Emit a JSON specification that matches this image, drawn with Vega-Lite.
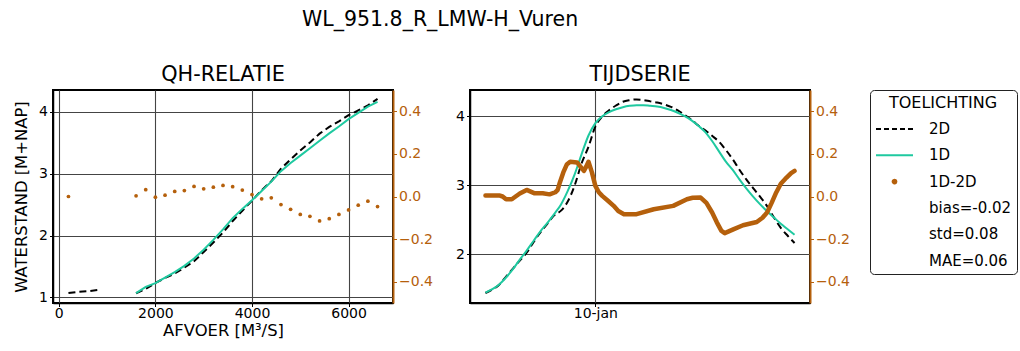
{
  "$schema": "https://vega.github.io/schema/vega-lite/v6.json",
  "padding": {"left": 12, "top": 9, "right": 3, "bottom": 0},
  "background": "white",
  "config": {
    "font": "DejaVu Sans",
    "view": {"stroke": "black", "strokeWidth": 2},
    "axis": {"labelFontSize": 14, "titleFontSize": 16.4, "labelColor": "black", "titleColor": "black", "titleFontWeight": "normal", "tickColor": "black", "domainColor": "black", "domainWidth": 1.5, "gridColor": "#444", "gridWidth": 1.1, "gridOpacity": 1, "tickSize": 3.5, "labelPadding": 2},
    "axisX": {"labelPadding": 0, "titlePadding": 2},
    "title": {"fontSize": 20.8, "fontWeight": "normal", "color": "black"}
  },
  "datasets": {
    "qh": [
      {"Q": 200, "H2D": 1.07, "diff": 0.0, "seg": "a"},
      {"Q": 400, "H2D": 1.09, "seg": "a"},
      {"Q": 600, "H2D": 1.10, "seg": "a"},
      {"Q": 800, "H2D": 1.12, "seg": "a"},
      {"Q": 1600, "H1D": 1.07, "H2D": 1.067, "diff": 0.003, "seg": "b"},
      {"Q": 1800, "H1D": 1.17, "H2D": 1.138, "diff": 0.032, "seg": "b"},
      {"Q": 2000, "H1D": 1.23, "H2D": 1.233, "diff": -0.003, "seg": "b"},
      {"Q": 2200, "H1D": 1.32, "H2D": 1.314, "diff": 0.006, "seg": "b"},
      {"Q": 2400, "H1D": 1.41, "H2D": 1.386, "diff": 0.024, "seg": "b"},
      {"Q": 2600, "H1D": 1.51, "H2D": 1.482, "diff": 0.028, "seg": "b"},
      {"Q": 2800, "H1D": 1.63, "H2D": 1.583, "diff": 0.047, "seg": "b"},
      {"Q": 3000, "H1D": 1.77, "H2D": 1.734, "diff": 0.036, "seg": "b"},
      {"Q": 3200, "H1D": 1.93, "H2D": 1.886, "diff": 0.044, "seg": "b"},
      {"Q": 3400, "H1D": 2.10, "H2D": 2.048, "diff": 0.052, "seg": "b"},
      {"Q": 3600, "H1D": 2.28, "H2D": 2.234, "diff": 0.046, "seg": "b"},
      {"Q": 3800, "H1D": 2.43, "H2D": 2.40, "diff": 0.030, "seg": "b"},
      {"Q": 4000, "H1D": 2.57, "H2D": 2.561, "diff": 0.009, "seg": "b"},
      {"Q": 4200, "H1D": 2.72, "H2D": 2.731, "diff": -0.011, "seg": "b"},
      {"Q": 4400, "H1D": 2.87, "H2D": 2.876, "diff": -0.006, "seg": "b"},
      {"Q": 4600, "H1D": 3.04, "H2D": 3.078, "diff": -0.038, "seg": "b"},
      {"Q": 4800, "H1D": 3.17, "H2D": 3.23, "diff": -0.060, "seg": "b"},
      {"Q": 5000, "H1D": 3.29, "H2D": 3.374, "diff": -0.084, "seg": "b"},
      {"Q": 5200, "H1D": 3.41, "H2D": 3.503, "diff": -0.093, "seg": "b"},
      {"Q": 5400, "H1D": 3.53, "H2D": 3.645, "diff": -0.115, "seg": "b"},
      {"Q": 5600, "H1D": 3.65, "H2D": 3.754, "diff": -0.104, "seg": "b"},
      {"Q": 5800, "H1D": 3.76, "H2D": 3.844, "diff": -0.084, "seg": "b"},
      {"Q": 6000, "H1D": 3.88, "H2D": 3.943, "diff": -0.063, "seg": "b"},
      {"Q": 6200, "H1D": 3.98, "H2D": 4.021, "diff": -0.041, "seg": "b"},
      {"Q": 6400, "H1D": 4.08, "H2D": 4.102, "diff": -0.022, "seg": "b"},
      {"Q": 6600, "H1D": 4.16, "H2D": 4.207, "diff": -0.047, "seg": "b"}
    ],
    "ts": [
      {"t": "2024-01-06 00:00", "H1D": 1.44, "H2D": 1.435},
      {"t": "2024-01-06 06:00", "H1D": 1.49, "H2D": 1.485},
      {"t": "2024-01-06 12:00", "H1D": 1.56, "H2D": 1.555},
      {"t": "2024-01-06 18:00", "H1D": 1.66, "H2D": 1.673},
      {"t": "2024-01-07 00:00", "H1D": 1.78, "H2D": 1.79},
      {"t": "2024-01-07 06:00", "H1D": 1.92, "H2D": 1.906},
      {"t": "2024-01-07 12:00", "H1D": 2.05, "H2D": 2.019},
      {"t": "2024-01-07 18:00", "H1D": 2.19, "H2D": 2.173},
      {"t": "2024-01-08 00:00", "H1D": 2.33, "H2D": 2.315},
      {"t": "2024-01-08 06:00", "H1D": 2.45, "H2D": 2.438},
      {"t": "2024-01-08 12:00", "H1D": 2.58, "H2D": 2.562},
      {"t": "2024-01-08 18:00", "H1D": 2.72, "H2D": 2.63},
      {"t": "2024-01-09 00:00", "H1D": 2.92, "H2D": 2.765},
      {"t": "2024-01-09 06:00", "H1D": 3.16, "H2D": 3.0},
      {"t": "2024-01-09 12:00", "H1D": 3.45, "H2D": 3.317},
      {"t": "2024-01-09 18:00", "H1D": 3.72, "H2D": 3.557},
      {"t": "2024-01-10 00:00", "H1D": 3.90, "H2D": 3.85},
      {"t": "2024-01-10 06:00", "H1D": 4.00, "H2D": 3.997},
      {"t": "2024-01-10 12:00", "H1D": 4.06, "H2D": 4.085},
      {"t": "2024-01-10 18:00", "H1D": 4.10, "H2D": 4.155},
      {"t": "2024-01-11 00:00", "H1D": 4.13, "H2D": 4.21},
      {"t": "2024-01-11 06:00", "H1D": 4.15, "H2D": 4.233},
      {"t": "2024-01-11 12:00", "H1D": 4.16, "H2D": 4.243},
      {"t": "2024-01-11 18:00", "H1D": 4.16, "H2D": 4.234},
      {"t": "2024-01-12 00:00", "H1D": 4.15, "H2D": 4.215},
      {"t": "2024-01-12 06:00", "H1D": 4.14, "H2D": 4.198},
      {"t": "2024-01-12 12:00", "H1D": 4.12, "H2D": 4.172},
      {"t": "2024-01-12 18:00", "H1D": 4.09, "H2D": 4.136},
      {"t": "2024-01-13 00:00", "H1D": 4.05, "H2D": 4.085},
      {"t": "2024-01-13 06:00", "H1D": 4.00, "H2D": 4.018},
      {"t": "2024-01-13 12:00", "H1D": 3.94, "H2D": 3.948},
      {"t": "2024-01-13 18:00", "H1D": 3.86, "H2D": 3.865},
      {"t": "2024-01-14 00:00", "H1D": 3.77, "H2D": 3.795},
      {"t": "2024-01-14 06:00", "H1D": 3.64, "H2D": 3.715},
      {"t": "2024-01-14 12:00", "H1D": 3.49, "H2D": 3.63},
      {"t": "2024-01-14 18:00", "H1D": 3.34, "H2D": 3.51},
      {"t": "2024-01-15 00:00", "H1D": 3.22, "H2D": 3.375},
      {"t": "2024-01-15 06:00", "H1D": 3.08, "H2D": 3.22},
      {"t": "2024-01-15 12:00", "H1D": 2.95, "H2D": 3.08},
      {"t": "2024-01-15 18:00", "H1D": 2.83, "H2D": 2.954},
      {"t": "2024-01-16 00:00", "H1D": 2.72, "H2D": 2.83},
      {"t": "2024-01-16 06:00", "H1D": 2.62, "H2D": 2.695},
      {"t": "2024-01-16 12:00", "H1D": 2.53, "H2D": 2.53},
      {"t": "2024-01-16 18:00", "H1D": 2.44, "H2D": 2.38},
      {"t": "2024-01-17 00:00", "H1D": 2.36, "H2D": 2.265},
      {"t": "2024-01-17 06:00", "H1D": 2.28, "H2D": 2.16}
    ],
    "tsdiff": [
      {"t": "2024-01-06 00:00", "diff": 0.005},
      {"t": "2024-01-06 12:00", "diff": 0.005},
      {"t": "2024-01-06 15:00", "diff": 0.0},
      {"t": "2024-01-06 18:00", "diff": -0.013},
      {"t": "2024-01-06 23:00", "diff": -0.013},
      {"t": "2024-01-07 06:00", "diff": 0.014},
      {"t": "2024-01-07 12:00", "diff": 0.031},
      {"t": "2024-01-07 19:00", "diff": 0.015},
      {"t": "2024-01-08 02:00", "diff": 0.015},
      {"t": "2024-01-08 08:00", "diff": 0.01},
      {"t": "2024-01-08 13:00", "diff": 0.02},
      {"t": "2024-01-08 15:00", "diff": 0.03},
      {"t": "2024-01-08 17:00", "diff": 0.066},
      {"t": "2024-01-08 20:00", "diff": 0.113},
      {"t": "2024-01-08 23:00", "diff": 0.15},
      {"t": "2024-01-09 02:00", "diff": 0.163},
      {"t": "2024-01-09 08:00", "diff": 0.16},
      {"t": "2024-01-09 11:00", "diff": 0.14},
      {"t": "2024-01-09 14:00", "diff": 0.12},
      {"t": "2024-01-09 16:00", "diff": 0.14},
      {"t": "2024-01-09 18:00", "diff": 0.163},
      {"t": "2024-01-09 21:00", "diff": 0.113},
      {"t": "2024-01-10 00:00", "diff": 0.05},
      {"t": "2024-01-10 03:00", "diff": 0.02},
      {"t": "2024-01-10 06:00", "diff": 0.003},
      {"t": "2024-01-10 11:00", "diff": -0.02},
      {"t": "2024-01-10 16:00", "diff": -0.044},
      {"t": "2024-01-10 20:00", "diff": -0.068},
      {"t": "2024-01-11 01:00", "diff": -0.083},
      {"t": "2024-01-11 12:00", "diff": -0.083},
      {"t": "2024-01-12 03:00", "diff": -0.06},
      {"t": "2024-01-12 20:00", "diff": -0.044},
      {"t": "2024-01-13 08:00", "diff": -0.013},
      {"t": "2024-01-13 13:00", "diff": -0.006},
      {"t": "2024-01-13 20:00", "diff": -0.005},
      {"t": "2024-01-14 01:00", "diff": -0.03},
      {"t": "2024-01-14 06:00", "diff": -0.075},
      {"t": "2024-01-14 10:00", "diff": -0.12},
      {"t": "2024-01-14 14:00", "diff": -0.16},
      {"t": "2024-01-14 17:00", "diff": -0.172},
      {"t": "2024-01-14 20:00", "diff": -0.165},
      {"t": "2024-01-15 01:00", "diff": -0.153},
      {"t": "2024-01-15 09:00", "diff": -0.135},
      {"t": "2024-01-15 21:00", "diff": -0.12},
      {"t": "2024-01-16 02:00", "diff": -0.1},
      {"t": "2024-01-16 06:00", "diff": -0.075},
      {"t": "2024-01-16 10:00", "diff": -0.03},
      {"t": "2024-01-16 14:00", "diff": 0.019},
      {"t": "2024-01-16 18:00", "diff": 0.06},
      {"t": "2024-01-16 23:00", "diff": 0.089},
      {"t": "2024-01-17 03:00", "diff": 0.11},
      {"t": "2024-01-17 06:00", "diff": 0.12}
    ]
  },
  "title": {"text": "WL_951.8_R_LMW-H_Vuren", "fontSize": 20.5, "anchor": "start", "frame": "group", "dx": 249, "offset": 33},
  "bounds": "flush",
  "spacing": 77,
  "hconcat": [
    {
      "width": 340,
      "height": 213,
      "title": {"text": "QH-RELATIE", "offset": 4},
      "data": {"name": "qh"},
      "layer": [
        {
          "layer": [
            {
              "mark": {"type": "line", "strokeDash": [7, 4], "strokeWidth": 2},
              "encoding": {
                "x": {"field": "Q", "type": "quantitative", "scale": {"domain": [-120, 6920], "nice": false, "zero": false}, "axis": {"title": "AFVOER [M³/S]", "values": [0, 2000, 4000, 6000], "format": "d", "grid": true}},
                "y": {"field": "H2D", "type": "quantitative", "scale": {"domain": [0.91, 4.35], "nice": false, "zero": false}, "axis": {"title": "WATERSTAND [M+NAP]", "values": [1, 2, 3, 4], "format": "d", "grid": true, "titlePadding": 9}},
                "detail": {"field": "seg"},
                "color": {
                  "datum": "2D",
                  "scale": {"domain": ["2D", "1D", "1D-2D", "bias=-0.02", "std=0.08", "MAE=0.06"], "range": ["black", "#1fc9a0", "#b5600c", "transparent", "transparent", "transparent"]},
                  "legend": {
                    "title": "TOELICHTING",
                    "orient": "right",
                    "offset": 19,
                    "titleAnchor": "middle",
                    "titleFontSize": 16,
                    "titleFontWeight": "normal",
                    "titleColor": "black",
                    "titlePadding": 10,
                    "labelFontSize": 15,
                    "labelColor": "black",
                    "labelOffset": 15,
                    "symbolType": "stroke",
                    "symbolSize": 1369,
                    "symbolStrokeWidth": 2,
                    "clipHeight": 16,
                    "rowPadding": 10.3,
                    "padding": 5,
                    "strokeColor": "#222",
                    "cornerRadius": 4,
                    "fillColor": "white",
                    "encode": {
                      "symbols": {
                        "update": {
                          "shape": {"signal": "datum.value === '1D-2D' ? 'circle' : 'stroke'"},
                          "size": {"signal": "datum.value === '1D-2D' ? 14 : 1369"},
                          "fill": {"signal": "datum.value === '1D-2D' ? '#b5600c' : 'transparent'"},
                          "stroke": {"signal": "datum.value === '2D' ? 'black' : datum.value === '1D' ? '#1fc9a0' : 'transparent'"},
                          "strokeDash": {"signal": "datum.value === '2D' ? [5, 3] : [1, 0]"},
                          "strokeWidth": {"value": 2},
                          "opacity": {"value": 1}
                        }
                      }
                    }
                  }
                }
              }
            },
            {
              "mark": {"type": "line", "strokeWidth": 2},
              "encoding": {
                "x": {"field": "Q", "type": "quantitative"},
                "y": {"field": "H1D", "type": "quantitative"},
                "color": {"datum": "1D"}
              }
            }
          ]
        },
        {
          "mark": {"type": "point", "filled": true, "size": 14, "opacity": 1},
          "encoding": {
            "x": {"field": "Q", "type": "quantitative"},
            "y": {"field": "diff", "type": "quantitative", "scale": {"domain": [-0.5, 0.5], "nice": false, "zero": false}, "axis": {"orient": "right", "title": null, "values": [-0.4, -0.2, 0, 0.2, 0.4], "format": ".1f", "grid": false, "labelColor": "#b5600c", "tickColor": "#b5600c", "domainColor": "#b5600c", "domainWidth": 2}},
            "color": {"datum": "1D-2D"}
          }
        }
      ],
      "resolve": {"scale": {"y": "independent"}}
    },
    {
      "width": 340,
      "height": 213,
      "title": {"text": "TIJDSERIE", "offset": 4},
      "layer": [
        {
          "data": {"name": "ts"},
          "layer": [
            {
              "mark": {"type": "line", "strokeDash": [7, 4], "strokeWidth": 2, "interpolate": "monotone"},
              "encoding": {
                "x": {"field": "t", "type": "temporal", "scale": {"domain": [{"year": 2024, "month": 1, "date": 5, "hours": 10, "minutes": 30}, {"year": 2024, "month": 1, "date": 17, "hours": 19, "minutes": 30}], "nice": false}, "axis": {"title": null, "values": [{"year": 2024, "month": 1, "date": 10}], "labelExpr": "lower(timeFormat(datum.value, '%d-%b'))", "grid": true}},
                "y": {"field": "H2D", "type": "quantitative", "scale": {"domain": [1.29, 4.38], "nice": false, "zero": false}, "axis": {"title": null, "values": [2, 3, 4], "format": "d", "grid": true}},
                "color": {"datum": "2D"}
              }
            },
            {
              "mark": {"type": "line", "strokeWidth": 2, "interpolate": "monotone"},
              "encoding": {
                "x": {"field": "t", "type": "temporal"},
                "y": {"field": "H1D", "type": "quantitative"},
                "color": {"datum": "1D"}
              }
            }
          ]
        },
        {
          "data": {"name": "tsdiff"},
          "mark": {"type": "line", "strokeWidth": 4.5, "strokeCap": "round", "strokeJoin": "round"},
          "encoding": {
            "x": {"field": "t", "type": "temporal"},
            "y": {"field": "diff", "type": "quantitative", "scale": {"domain": [-0.5, 0.5], "nice": false, "zero": false}, "axis": {"orient": "right", "title": null, "values": [-0.4, -0.2, 0, 0.2, 0.4], "format": ".1f", "grid": false, "labelColor": "#b5600c", "tickColor": "#b5600c", "domainColor": "#b5600c", "domainWidth": 2}},
            "color": {"datum": "1D-2D"}
          }
        }
      ],
      "resolve": {"scale": {"y": "independent"}}
    }
  ]
}
